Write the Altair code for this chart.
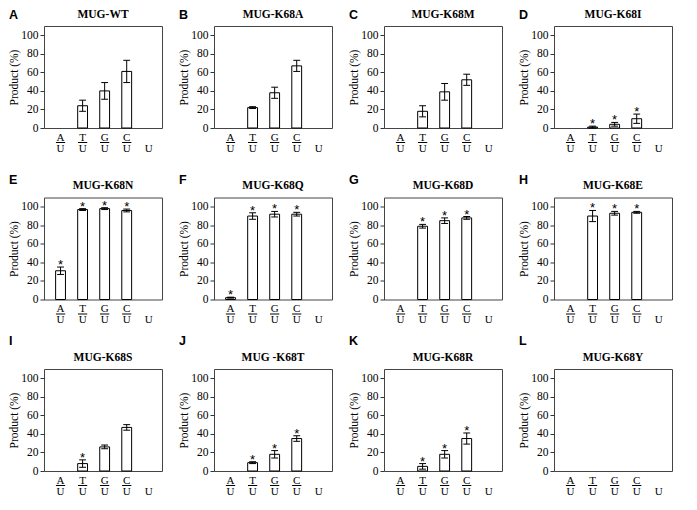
import altair as alt
import pandas as pd

PANEL_LETTERS = ["A", "B", "C", "D", "E", "F", "G", "H", "I", "J", "K", "L"]
PANEL_TITLES = ["MUG-WT", "MUG-K68A", "MUG-K68M", "MUG-K68I",
                "MUG-K68N", "MUG-K68Q", "MUG-K68D", "MUG-K68E",
                "MUG-K68S", "MUG -K68T", "MUG-K68R", "MUG-K68Y"]
PAIR_TOP = ["A", "T", "G", "C", ""]
PAIR_BOTTOM = ["U", "U", "U", "U", "U"]
Y_TICKS = [0, 20, 40, 60, 80, 100]

# Product (%) for A/U, T/U, G/U, C/U  (None = no bar)
PRODUCT = [
    [None, 24, 40, 61],
    [None, 22, 38, 67],
    [None, 18, 39, 52],
    [None, 1, 4, 10],
    [31, 97, 98, 96],
    [2, 90, 92, 92],
    [None, 79, 85, 88],
    [None, 90, 93, 94],
    [None, 8, 26, 47],
    [None, 9, 18, 35],
    [None, 5, 18, 35],
    [None, None, None, None],
]
ERROR = [
    [None, 6, 9, 12],
    [None, 1, 6, 6],
    [None, 6, 9, 6],
    [None, 1, 2, 5],
    [4, 1, 1, 1.5],
    [0.5, 3.5, 3, 2],
    [None, 2, 3, 1.5],
    [None, 6, 2, 1],
    [None, 4, 2, 3],
    [None, 1, 4, 3],
    [None, 3, 4, 6],
    [None, None, None, None],
]
SIGNIF = [
    [0, 0, 0, 0],
    [0, 0, 0, 0],
    [0, 0, 0, 0],
    [0, 1, 1, 1],
    [1, 1, 1, 1],
    [1, 1, 1, 1],
    [0, 1, 1, 1],
    [0, 1, 1, 1],
    [0, 1, 0, 0],
    [0, 1, 1, 1],
    [0, 1, 1, 1],
    [0, 0, 0, 0],
]
LETTER_OFFSET = [-7.5, -7.5, -7.5, -7.5, -14, -14, -14, -14, -24, -24, -24, -24]

W, H = 118, 102
SERIF = "Liberation Serif"
SANS = "Liberation Sans"
BAR_HALF = 0.223
CAP_HALF = 0.155
LINE_HALF = 0.21

xs = alt.Scale(domain=[-0.75, 4.6], nice=False, zero=False)
ys = alt.Scale(domain=[0, 110], nice=False)
y_axis = alt.Axis(
    values=Y_TICKS, title="Product (%)",
    titleFont=SERIF, titleFontSize=11.5, titleFontWeight="normal",
    titleColor="black", labelFont=SERIF, labelFontSize=11.5,
    labelColor="black", tickSize=4, tickColor="#333", domain=False,
    grid=False, labelPadding=2, titlePadding=1, labelOverlap=False,
    labelFlush=False)


def Y(field):
    return alt.Y(field, scale=ys, axis=y_axis)


def panel(i):
    rows = []
    for p in range(4):
        v = PRODUCT[i][p]
        e = ERROR[i][p]
        rows.append({
            "pos": p,
            "x0": p - BAR_HALF, "x1": p + BAR_HALF,
            "c0": p - CAP_HALF, "c1": p + CAP_HALF,
            "value": v,
            "zero": 0 if v is not None else None,
            "lo": (v - e) if v is not None else None,
            "hi": (v + e) if v is not None else None,
            "star": "*" if (SIGNIF[i][p] and v is not None) else "",
        })
    df = pd.DataFrame(rows)
    lab = pd.DataFrame({
        "pos": list(range(5)),
        "l0": [p - LINE_HALF for p in range(5)],
        "l1": [p + LINE_HALF for p in range(5)],
        "top": PAIR_TOP,
        "bottom": PAIR_BOTTOM,
    })

    base = alt.Chart(df)
    bars = base.mark_bar(fill="white", stroke="black", strokeWidth=1).encode(
        x=alt.X("x0:Q", scale=xs, axis=None),
        x2="x1:Q",
        y=Y("value:Q"),
        y2="zero:Q",
    )
    err = base.mark_rule(color="black", strokeWidth=1).encode(
        x=alt.X("pos:Q", scale=xs, axis=None), y=Y("lo:Q"), y2="hi:Q")
    cap_hi = base.mark_rule(color="black", strokeWidth=1).encode(
        x=alt.X("c0:Q", scale=xs, axis=None), x2="c1:Q", y=Y("hi:Q"))
    cap_lo = base.mark_rule(color="black", strokeWidth=1).encode(
        x=alt.X("c0:Q", scale=xs, axis=None), x2="c1:Q", y=Y("lo:Q"))
    stars = base.mark_text(font=SANS, fontSize=13, baseline="alphabetic",
                           dy=2, color="black").encode(
        x=alt.X("pos:Q", scale=xs, axis=None), y=Y("hi:Q"), text="star:N")

    lbase = alt.Chart(lab)
    top_txt = lbase.mark_text(font=SERIF, fontSize=11, baseline="alphabetic",
                              color="black").encode(
        x=alt.X("pos:Q", scale=xs, axis=None), y=alt.value(H + 12.5),
        text="top:N")
    bot_txt = lbase.mark_text(font=SERIF, fontSize=11, baseline="alphabetic",
                              color="black").encode(
        x=alt.X("pos:Q", scale=xs, axis=None), y=alt.value(H + 23.5),
        text="bottom:N")
    frac = lbase.transform_filter("datum.top != ''").mark_rule(
        color="black", strokeWidth=1).encode(
        x=alt.X("l0:Q", scale=xs, axis=None), x2="l1:Q",
        y=alt.value(H + 14.5))

    title = alt.Chart(pd.DataFrame({"t": [PANEL_TITLES[i]]})).mark_text(
        font=SERIF, fontSize=11.5, fontWeight="bold", baseline="alphabetic",
        align="center", color="black").encode(
        x=alt.value(W / 2), y=alt.value(-8.5), text="t:N")
    letter = alt.Chart(pd.DataFrame({"t": [PANEL_LETTERS[i]]})).mark_text(
        font=SANS, fontSize=12.5, fontWeight="bold", baseline="alphabetic",
        align="left", color="black").encode(
        x=alt.value(-35), y=alt.value(LETTER_OFFSET[i]), text="t:N")

    return alt.layer(bars, err, cap_hi, cap_lo, stars, top_txt, bot_txt,
                     frac, title, letter).properties(width=W, height=H)


chart = alt.concat(*[panel(i) for i in range(12)], columns=4,
                   spacing={"row": 69.5, "column": 52}).properties(
    bounds="flush", padding={"left": 0, "top": 0, "right": 5, "bottom": 5}
).configure_view(stroke="#444", strokeWidth=1)

chart.save("out.html", embed_options={"renderer": "svg", "actions": False})
